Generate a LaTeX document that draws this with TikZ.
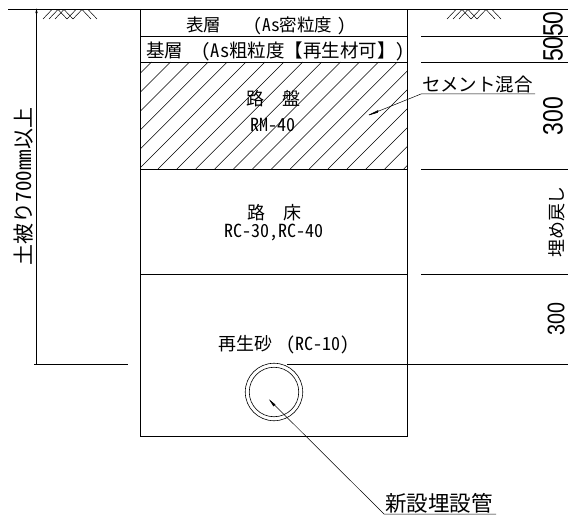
\documentclass[tikz,border=0pt]{standalone}
\usepackage{fontspec}
\usepackage{tikz}
\usetikzlibrary{positioning}

\setmainfont{Liberation Sans}
\newfontfamily\cjk[RawFeature={+hwid}]{Noto Sans CJK JP}
\newfontfamily\dimfont[FakeStretch=0.82]{Liberation Sans}

\tikzset{
    layer/.style={draw=black, line width=0.8pt},
    thin line/.style={draw=black, line width=0.5pt},
    label/.style={inner sep=0pt, font=\cjk\fontsize{18}{18}\selectfont},
    dim/.style={inner sep=0pt, rotate=90, font=\dimfont\fontsize{28}{28}\selectfont},
    smalldim/.style={inner sep=0pt, rotate=90, font=\dimfont\fontsize{24}{24}\selectfont},
    leader/.style={draw=black, line width=0.5pt}
}

% ground mark, drawn from its lower left corner
\newcommand{\groundmark}[2]{%
    \foreach \a/\b in {0/9,6/15,12/21,24/33,30/39}
        \draw[thin line] (#1+\a,#2) -- (#1+\b,#2-9.5);
    \foreach \a/\b in {15/24,21/30,39/48,45/54}
        \draw[thin line] (#1+\a,#2-9.5) -- (#1+\b,#2);
}

\begin{document}
\begin{tikzpicture}[x=1pt, y=-1pt]
\useasboundingbox (0,0) rectangle (568,516);

%Coordinates
\coordinate (BoxTL)  at (140.5,9);
\coordinate (BoxTR)  at (407.5,9);
\coordinate (BoxBL)  at (140.5,436);
\coordinate (BoxBR)  at (407.5,436);
\coordinate (PipeC)  at (274,392);

%Hatching
\begin{scope}
    \clip (140.5,62) rectangle (407.5,169);
    \foreach \c in {0,...,20}
        \draw[thin line] (132.7+18.9*\c,62) -- (25.7+18.9*\c,169);
\end{scope}

%Lines
\draw[layer] (8,9) -- (568,9);
\draw[layer] (BoxTL) -- (BoxBL) -- (BoxBR) -- (BoxTR);
\draw[layer] (140.5,36) -- (407.5,36);
\draw[layer] (140.5,62) -- (407.5,62);
\draw[layer] (140.5,169) -- (407.5,169);
\draw[layer] (140.5,274) -- (407.5,274);
\draw[layer] (421,36) -- (568,36);
\draw[layer] (421,62) -- (568,62);
\draw[layer] (421,169) -- (568,169);
\draw[layer] (421,274) -- (568,274);
\draw[layer] (34,364) -- (128,364);
\draw[layer] (287,364) -- (568,364);

\draw[thin line] (36.5,364) -- (36.5,10);
\draw[thin line, fill=black] (36.5,9.5) -- (35.7,13) -- (37.3,13) -- cycle;

\groundmark{43}{19}
\groundmark{447}{19}

%Pipe
\node[draw, circle, minimum size=57.5pt, inner sep=0pt, line width=0.6pt] (PipeOuter) at (PipeC) {};
\node[draw, circle, minimum size=49.5pt, inner sep=0pt, line width=0.6pt] (PipeInner) at (PipeC) {};

%Nodes
\node[label, anchor=west, font=\cjk\fontsize{17.5}{18}\selectfont] (Surface) at (186,26) {表層\hspace{1.85em}（As密粒度\hspace{0.3em}）};
\node[label, anchor=west, font=\cjk\fontsize{18.5}{18}\selectfont] (Base) at (146,51) {基層\hspace{1em}（As粗粒度【再生材可】）};
\node[label] (Roban)    at (273,99)  {路\hspace{1em}盤};
\node[label] (RobanMat) [below=11pt of Roban] {RM-40};
\node[label] (Roshou)   at (274,213) {路\hspace{1em}床};
\node[label] (RoshouMat) [below=2pt of Roshou] {RC-30,RC-40};
\node[label, anchor=west] (Sand) at (218,345) {再生砂\hspace{0.8em}（RC-10）};
\node[label, anchor=south west, font=\cjk\fontsize{18.5}{18}\selectfont] (Cement) at (422,93) {セメント混合};
\node[label, anchor=south west, font=\cjk\fontsize{21.5}{22}\selectfont] (NewPipe) at (385,514) {新設埋設管};

\node[label, rotate=90, font=\cjk\fontsize{21}{21}\selectfont] (Cover) at (24,186.5) {土被り700mm以上};
\node[label, rotate=90] (Backfill) at (557,222) {埋め戻し};

\node[dim] (Dim50a)  at (553,24)  {50};
\node[dim] (Dim50b)  at (553,49)  {50};
\node[dim] (Dim300a) at (553,116) {300};
\node[smalldim] (Dim300b) at (556,319) {300};

%Leaders
\coordinate (CementEnd) at (369,115);
\coordinate (CementBar) at (535,94);
\coordinate (PipeEnd)   at (270,400.5);
\coordinate (PipeBar)   at (496,514);
\draw[leader] (CementBar) -- (421,94) -- (CementEnd);
\draw[leader, fill=black] (CementEnd) -- (378,110.5) -- (377.5,112.5) -- cycle;
\draw[leader] (PipeBar) -- (384,514) -- (PipeEnd);
\draw[leader, fill=black] (PipeEnd) -- (275,404.5) -- (273.5,406) -- cycle;
\end{tikzpicture}
\end{document}
